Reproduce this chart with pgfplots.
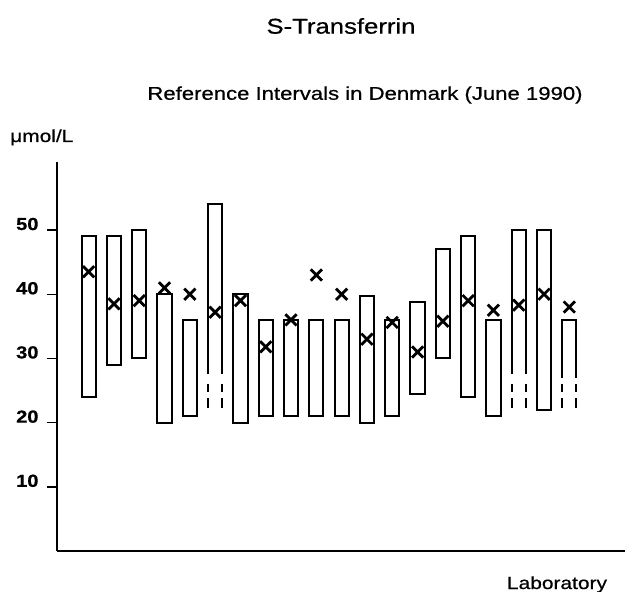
\documentclass[border=0pt]{standalone}
\usepackage{fontspec}
\setmainfont{Liberation Sans}[FakeStretch=1.2, FakeBold=0.6, BoldFeatures={FakeStretch=1.15}]
\usepackage{pgfplots}
\pgfplotsset{compat=1.18}
\begin{document}
\begin{tikzpicture}
\useasboundingbox (0bp,0bp) rectangle (625bp,592bp);
\node[font=\fontsize{21.5}{24}\selectfont] at (341bp,566bp) {S-Transferrin};
\node[font=\fontsize{18.5}{21}\selectfont] at (365bp,497bp) {Reference Intervals in Denmark (June 1990)};
\node[font=\fontsize{17.5}{20}\selectfont, anchor=base west, inner sep=0pt] at (10bp,450bp) {μmol/L};
\node[font=\fontsize{17.5}{20}\selectfont, anchor=base, inner sep=0pt] at (557bp,3bp) {Laboratory};
\begin{axis}[at={(57bp,41bp)}, anchor=south west, scale only axis,
  width=568bp, height=389bp,
  xmin=-0.25, xmax=22.2, ymin=0, ymax=60.6,
  axis lines*=left, axis line style={line width=1.7pt},
  xtick=\empty, ytick={10,20,30,40,50},
  tick align=outside, major tick length=10bp,
  tick style={line width=1.4pt, black},
  yticklabel style={font=\fontsize{17.5}{20}\selectfont\bfseries, xshift=-5bp, yshift=6bp},
  /pgf/number format/assume math mode=true,
  clip=false]
\pgfplotsset{bar/.style={black, line width=2pt, line join=miter}}
% closed bars: x-0.28, x+0.28, low, high
\addplot[bar] coordinates {(0.72,24)(0.72,49)(1.28,49)(1.28,24)} -- cycle;
\addplot[bar] coordinates {(1.72,29)(1.72,49)(2.28,49)(2.28,29)} -- cycle;
\addplot[bar] coordinates {(2.72,30)(2.72,50)(3.28,50)(3.28,30)} -- cycle;
\addplot[bar] coordinates {(3.72,20)(3.72,40)(4.28,40)(4.28,20)} -- cycle;
\addplot[bar] coordinates {(4.72,21)(4.72,36)(5.28,36)(5.28,21)} -- cycle;
\addplot[bar] coordinates {(6.72,20)(6.72,40)(7.28,40)(7.28,20)} -- cycle;
\addplot[bar] coordinates {(7.72,21)(7.72,36)(8.28,36)(8.28,21)} -- cycle;
\addplot[bar] coordinates {(8.72,21)(8.72,36)(9.28,36)(9.28,21)} -- cycle;
\addplot[bar] coordinates {(9.72,21)(9.72,36)(10.28,36)(10.28,21)} -- cycle;
\addplot[bar] coordinates {(10.72,21)(10.72,36)(11.28,36)(11.28,21)} -- cycle;
\addplot[bar] coordinates {(11.72,20)(11.72,39.7)(12.28,39.7)(12.28,20)} -- cycle;
\addplot[bar] coordinates {(12.72,21)(12.72,36)(13.28,36)(13.28,21)} -- cycle;
\addplot[bar] coordinates {(13.72,24.5)(13.72,38.8)(14.28,38.8)(14.28,24.5)} -- cycle;
\addplot[bar] coordinates {(14.72,30)(14.72,47)(15.28,47)(15.28,30)} -- cycle;
\addplot[bar] coordinates {(15.72,24)(15.72,49)(16.28,49)(16.28,24)} -- cycle;
\addplot[bar] coordinates {(16.72,21)(16.72,36)(17.28,36)(17.28,21)} -- cycle;
\addplot[bar] coordinates {(18.72,22)(18.72,50)(19.28,50)(19.28,22)} -- cycle;
% open-ended bars (lower limit not stated)
\addplot[bar] coordinates {(5.72,27.5)(5.72,54)(6.28,54)(6.28,27.5)};
\addplot[bar] coordinates {(17.72,27.5)(17.72,50)(18.28,50)(18.28,27.5)};
\addplot[bar] coordinates {(19.72,27)(19.72,36)(20.28,36)(20.28,27)};
\pgfplotsset{dashside/.style={black, line width=2pt, dash pattern=on 8bp off 6bp on 10bp off 6bp}}
\addplot[dashside] coordinates {(5.72,26)(5.72,22.3)};
\addplot[dashside] coordinates {(6.28,26)(6.28,22.3)};
\addplot[dashside] coordinates {(17.72,26)(17.72,22.3)};
\addplot[dashside] coordinates {(18.28,26)(18.28,22.3)};
\addplot[dashside] coordinates {(19.72,26)(19.72,22.3)};
\addplot[dashside] coordinates {(20.28,26)(20.28,22.3)};
% reference-interval midpoints / means
\addplot[only marks, mark=x, mark size=8pt, black, mark options={line width=2.8pt}] coordinates {
(1,43.5) (2,38.5) (3,39) (4,41) (5,40) (6,37.2) (7,39) (8,31.8) (9,36) (10,43)
(11,40) (12,33) (13,35.6) (14,31) (15,35.8) (16,39) (17,37.5) (18,38.3) (19,40) (20,38)};
\end{axis}
\end{tikzpicture}
\end{document}
